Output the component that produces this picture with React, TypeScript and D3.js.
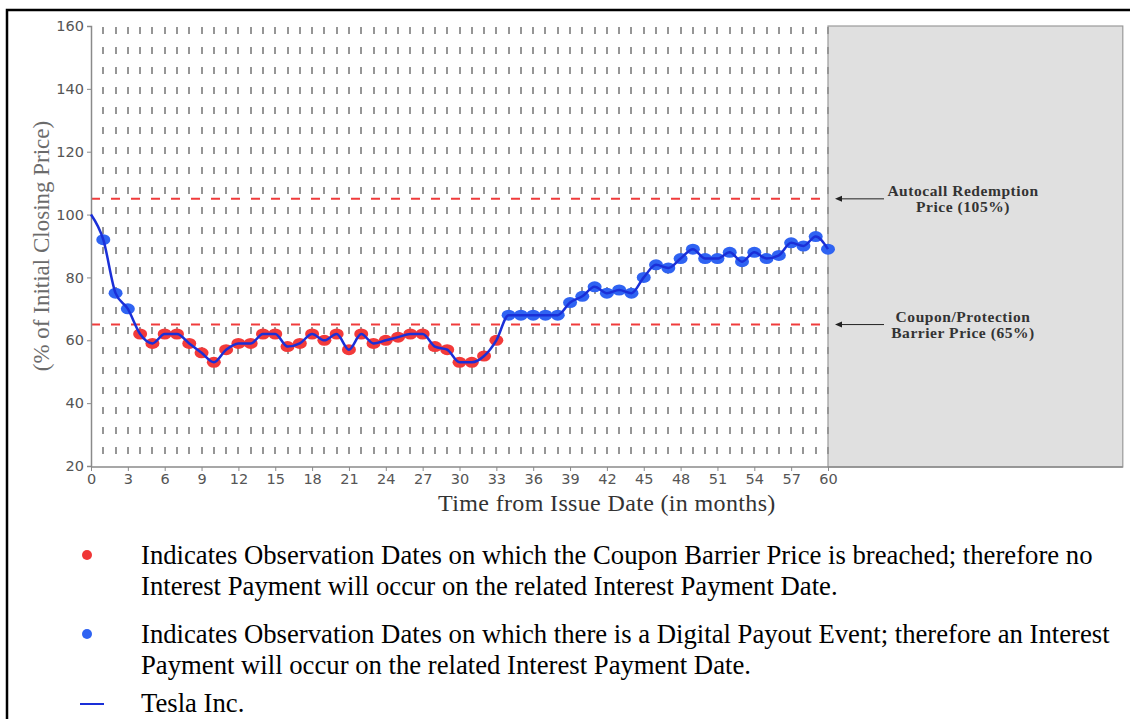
import React, { useEffect, useRef } from 'react';
import * as d3 from 'd3';

// Tesla Inc. level, % of initial closing price, month 0..60
const values = [
  100, 92, 75, 70, 62, 59, 62, 62, 59, 56, 53, 57, 59, 59, 62, 62, 58, 59, 62, 60,
  62, 57, 62, 59, 60, 61, 62, 62, 58, 57, 53, 53, 55, 60, 68, 68, 68, 68, 68, 72,
  74, 77, 75, 76, 75, 80, 84, 83, 86, 89, 86, 86, 88, 85, 88, 86, 87, 91, 90, 93, 89,
];
const autocallLevel = 105;
const barrierLevel = 65;
const lastMonth = 60;
const shadeEndMonth = 84;
const yTicks = [20, 40, 60, 80, 100, 120, 140, 160];
const xTicks = [0, 3, 6, 9, 12, 15, 18, 21, 24, 27, 30, 33, 36, 39, 42, 45, 48, 51, 54, 57, 60];
const annotations = [
  { level: autocallLevel, lines: ['Autocall Redemption', 'Price (105%)'] },
  { level: barrierLevel, lines: ['Coupon/Protection', 'Barrier Price (65%)'] },
];
const legendItems = [
  {
    kind: 'dot',
    color: '#f03636',
    lines: [
      'Indicates Observation Dates on which the Coupon Barrier Price is breached; therefore no',
      'Interest Payment will occur on the related Interest Payment Date.',
    ],
  },
  {
    kind: 'dot',
    color: '#2f63f2',
    lines: [
      'Indicates Observation Dates on which there is a Digital Payout Event; therefore an Interest',
      'Payment will occur on the related Interest Payment Date.',
    ],
  },
  { kind: 'line', color: '#1a2fd8', lines: ['Tesla Inc.'] },
];

const W = 1130;
const H = 719;

export default function App() {
  const svgRef = useRef<SVGSVGElement>(null);

  useEffect(() => {
    const svg = d3.select(svgRef.current);
    svg.selectAll('*').remove();

    const x = d3.scaleLinear().domain([0, shadeEndMonth]).range([91, 1122.8]);
    const y = d3.scaleLinear().domain([20, 160]).range([466, 26]);
    const serif = '"Liberation Serif", "Times New Roman", serif';
    const sans = '"DejaVu Sans", sans-serif';

    svg.append('rect').attr('width', W).attr('height', H).attr('fill', '#fff');

    // outer frame (left + top only visible)
    svg.append('path')
      .attr('d', `M7,${H} V10 H${W}`)
      .attr('fill', 'none')
      .attr('stroke', '#000')
      .attr('stroke-width', 2.5);

    // shaded region after maturity
    svg.append('rect')
      .attr('x', x(lastMonth))
      .attr('y', y(160))
      .attr('width', x(shadeEndMonth) - x(lastMonth))
      .attr('height', y(20) - y(160) + 1)
      .attr('fill', '#e0e0e0')
      .attr('stroke', '#9a9a9a')
      .attr('stroke-width', 1.2);

    // monthly dashed gridlines
    const months = values.map((_, i) => i);
    svg.append('g')
      .selectAll('line')
      .data(months.filter(m => m > 0))
      .join('line')
      .attr('x1', d => Math.round(x(d)))
      .attr('x2', d => Math.round(x(d)))
      .attr('y1', y(160) + 1)
      .attr('y2', y(20))
      .attr('stroke', '#969696')
      .attr('stroke-width', 2)
      .attr('stroke-dasharray', '7,13');

    // barrier levels
    svg.append('g')
      .selectAll('line')
      .data([autocallLevel, barrierLevel])
      .join('line')
      .attr('x1', x(0))
      .attr('x2', x(lastMonth))
      .attr('y1', d => y(d))
      .attr('y2', d => y(d))
      .attr('stroke', '#f03c3c')
      .attr('stroke-width', 2)
      .attr('stroke-dasharray', '9,11');

    // axes
    const yAxis = svg.append('g')
      .attr('transform', `translate(${x(0)},0)`)
      .call(d3.axisLeft(y).tickValues(yTicks).tickSize(4).tickPadding(3));
    const xAxis = svg.append('g')
      .attr('transform', `translate(0,${y(20) + 1})`)
      .call(d3.axisBottom(x).tickValues(xTicks).tickSize(4).tickPadding(3));
    [yAxis, xAxis].forEach(g => {
      g.select('.domain').attr('stroke', '#8a8a8a').attr('stroke-width', 1.5);
      g.selectAll('.tick line').attr('stroke', '#8a8a8a');
      g.selectAll('.tick text')
        .attr('fill', '#555')
        .attr('font-family', sans)
        .attr('font-size', 14.5);
    });
    xAxis.select('.domain').attr('d', `M${x(0)},0H${x(shadeEndMonth)}`);

    // markers then line
    const pts = months.filter(m => m > 0);
    svg.append('g')
      .selectAll('ellipse')
      .data(pts)
      .join('ellipse')
      .attr('cx', d => x(d))
      .attr('cy', d => y(values[d]))
      .attr('rx', 7)
      .attr('ry', 5.5)
      .attr('fill', d => (values[d] < barrierLevel ? '#f23a3a' : '#2f63f2'));

    const line = d3.line<number>()
      .x(d => x(d))
      .y(d => y(values[d]))
      .curve(d3.curveMonotoneX);
    svg.append('path')
      .datum(months)
      .attr('fill', 'none')
      .attr('stroke', '#1a2fd8')
      .attr('stroke-width', 2.5)
      .attr('d', line);

    // annotations
    annotations.forEach(a => {
      const yy = y(a.level);
      svg.append('line')
        .attr('x1', 840).attr('x2', 884)
        .attr('y1', yy).attr('y2', yy)
        .attr('stroke', '#222').attr('stroke-width', 1);
      svg.append('path')
        .attr('d', `M835,${yy} l7,-3 v6 z`)
        .attr('fill', '#222');
      a.lines.forEach((t, i) => {
        svg.append('text')
          .attr('x', 963)
          .attr('y', yy - 3 + i * 16.5)
          .attr('text-anchor', 'middle')
          .attr('font-family', serif)
          .attr('font-weight', 'bold')
          .attr('font-size', 15.5)
          .attr('letter-spacing', 0.55)
          .attr('fill', '#333')
          .text(t);
      });
    });

    // axis titles
    svg.append('text')
      .attr('x', (x(0) + x(shadeEndMonth)) / 2)
      .attr('y', 511)
      .attr('text-anchor', 'middle')
      .attr('font-family', serif)
      .attr('font-size', 24)
      .attr('letter-spacing', 0.35)
      .attr('fill', '#333')
      .text('Time from Issue Date (in months)');
    svg.append('text')
      .attr('transform', `translate(49,${(y(20) + y(160)) / 2}) rotate(-90)`)
      .attr('text-anchor', 'middle')
      .attr('font-family', serif)
      .attr('font-size', 23)
      .attr('fill', '#6b6b6b')
      .text('(% of Initial Closing Price)');

    // legend
    const legendTop = [564, 643, 712];
    legendItems.forEach((item, k) => {
      const base = legendTop[k];
      if (item.kind === 'dot') {
        svg.append('circle')
          .attr('cx', 87).attr('cy', base - 9).attr('r', 5)
          .attr('fill', item.color);
      } else {
        svg.append('line')
          .attr('x1', 80).attr('x2', 104)
          .attr('y1', base - 8).attr('y2', base - 8)
          .attr('stroke', item.color).attr('stroke-width', 2);
      }
      item.lines.forEach((t, i) => {
        svg.append('text')
          .attr('x', 141)
          .attr('y', base + i * 30.5)
          .attr('font-family', serif)
          .attr('font-size', 26.7)
          .attr('fill', '#000')
          .text(t);
      });
    });
  }, []);

  return (
    <div style={{ position: 'absolute', left: 0, top: 0 }}>
      <svg ref={svgRef} width={W} height={H} style={{ display: 'block' }}></svg>
    </div>
  );
}
